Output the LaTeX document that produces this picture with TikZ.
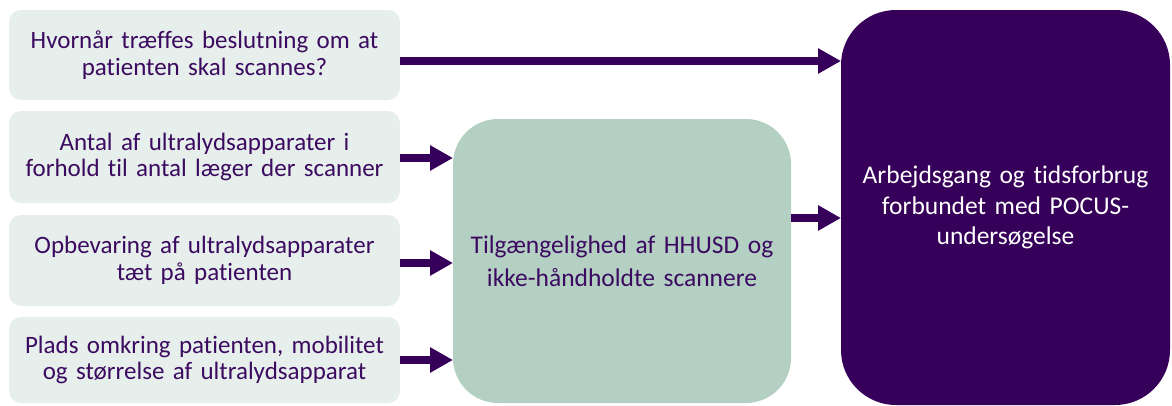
\documentclass[tikz,border=0pt]{standalone}
\usepackage{fontspec}
\setmainfont{Carlito}[RawFeature={-liga}]
\usetikzlibrary{arrows.meta}
\definecolor{lightbox}{HTML}{E6EFEB}
\definecolor{midbox}{HTML}{B4D0C3}
\definecolor{darkbox}{HTML}{36005A}
\definecolor{txt}{HTML}{3C0A60}
\tikzset{
  inbox/.style={fill=lightbox, rounded corners=12pt, minimum width=391pt, minimum height=90pt,
    inner sep=0pt, outer sep=0pt, text width=385pt, align=center, text=txt,
    font=\fontsize{25}{26.5}\selectfont},
  midnode/.style={fill=midbox, rounded corners=45pt, minimum width=338pt, minimum height=284pt,
    inner sep=0pt, outer sep=0pt, text width=330pt, align=center, text=txt,
    font=\fontsize{25.5}{32.5}\selectfont},
  darknode/.style={fill=darkbox, rounded corners=55pt, minimum width=329pt, minimum height=395pt,
    inner sep=0pt, outer sep=0pt, text width=320pt, align=center, text=white,
    font=\fontsize{25.5}{30.5}\selectfont},
  arr/.style={draw=darkbox, line width=8pt, -{Triangle[length=23pt,width=24pt]}, shorten >=0pt}
}
\begin{document}
\begin{tikzpicture}[x=1pt,y=-1pt]
\useasboundingbox (0,0) rectangle (1172,405);
\node[inbox] (b1) at (204.5,55) {Hvornår træffes beslutning om at\\patienten skal scannes?};
\node[inbox, minimum height=92pt] (b2) at (204.5,157) {Antal af ultralydsapparater i\\forhold til antal læger der scanner};
\node[inbox, minimum height=91pt] (b3) at (204.5,260.5) {Opbevaring af ultralydsapparater\\tæt på patienten};
\node[inbox, minimum height=86pt] (b4) at (204.5,360) {Plads omkring patienten, mobilitet\\og størrelse af ultralydsapparat};
\node[midnode] (m) at (622,261) {Tilgængelighed af HHUSD og\\ikke-håndholdte scannere};
\node[darknode] (d) at (1005.5,207.5) {Arbejdsgang og tidsforbrug\\forbundet med POCUS-\\undersøgelse};
\draw[arr] ([yshift=-6pt]b1.east) -- ([yshift=-6pt]b1.east -| d.west);
\draw[arr] ([yshift=-1pt]b2.east) -- ([yshift=-1pt]b2.east -| m.west);
\draw[arr] ([yshift=-2.5pt]b3.east) -- ([yshift=-2.5pt]b3.east -| m.west);
\draw[arr] (b4.east) -- (b4.east -| m.west);
\draw[arr] ([yshift=43pt]m.east) -- ([yshift=43pt]m.east -| d.west);
\end{tikzpicture}
\end{document}
